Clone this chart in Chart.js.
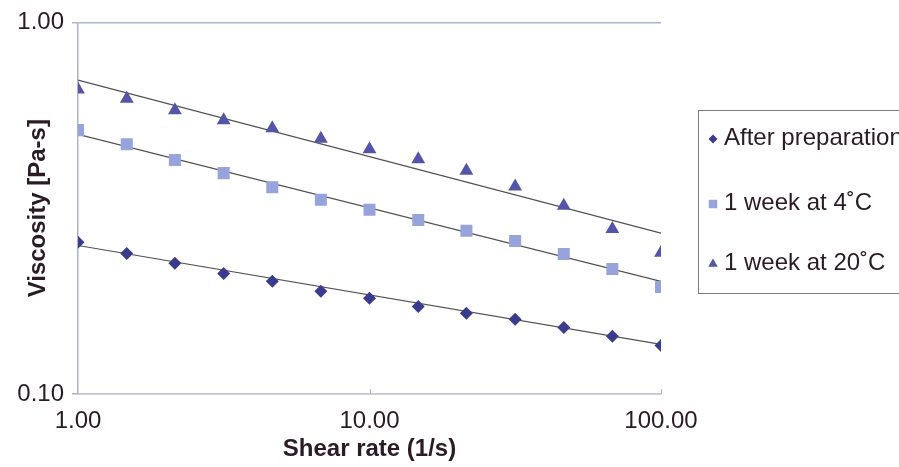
<!DOCTYPE html>
<html>
<head>
<meta charset="utf-8">
<script src="https://cdn.jsdelivr.net/npm/chart.js@4/dist/chart.umd.min.js"></script>
<style>
  html, body { margin: 0; padding: 0; background: #fff; }
  canvas { display: block; }
</style>
</head>
<body>
<canvas id="viscChart" width="899" height="467"></canvas>
<script>
// shear rates (1/s), six points per decade
const shearRates = [1.00, 1.47, 2.15, 3.16, 4.64, 6.81, 10.0, 14.7, 21.5, 31.6, 46.4, 68.1, 100.0];

// viscosity readings (Pa-s)
const afterPrep = [0.256, 0.239, 0.225, 0.211, 0.201, 0.189, 0.181, 0.172, 0.165, 0.159, 0.151, 0.143, 0.135];
const week4C    = [0.513, 0.470, 0.426, 0.393, 0.360, 0.333, 0.313, 0.294, 0.275, 0.258, 0.238, 0.217, 0.194];
const week20C   = [0.660, 0.623, 0.580, 0.545, 0.519, 0.486, 0.456, 0.428, 0.399, 0.362, 0.321, 0.278, 0.240];

// power-law trendlines, read at x = 1 and x = 100
const trendX       = [1, 100];
const trendPrep    = [0.251, 0.136];
const trend4C      = [0.500, 0.201];
const trend20C     = [0.699, 0.271];

const seriesNames = ['After preparation', '1 week at 4\u02DAC', '1 week at 20\u02DAC'];
const xTicks = [1, 10, 100];
const yTicks = [0.1, 1];

const textColor = '#2b1b24';
const axisBlue = '#aab4d2';
const trendColor = '#505050';
const fontFamily = '"Liberation Sans", Arial, sans-serif';

function pts(xs, ys) {
  return xs.map((x, i) => ({ x: x, y: ys[i] }));
}

function trendSet(ys) {
  return {
    label: '_trend',
    data: pts(trendX, ys),
    showLine: true,
    borderColor: trendColor,
    borderWidth: 1.2,
    pointRadius: 0,
    order: 1
  };
}

const data = {
  datasets: [
    {
      label: seriesNames[0],
      data: pts(shearRates, afterPrep),
      pointStyle: 'rectRot',
      pointRadius: 6.5,
      backgroundColor: '#3b3b8e',
      borderColor: '#3b3b8e',
      borderWidth: 0,
      order: 0
    },
    {
      label: seriesNames[1],
      data: pts(shearRates, week4C),
      pointStyle: 'rect',
      pointRadius: 8.5,
      backgroundColor: '#97a3db',
      borderColor: '#97a3db',
      borderWidth: 0,
      order: 0
    },
    {
      label: seriesNames[2],
      data: pts(shearRates, week20C),
      pointStyle: 'triangle',
      pointRadius: 8,
      backgroundColor: '#5455a9',
      borderColor: '#5455a9',
      borderWidth: 0,
      order: 0
    },
    trendSet(trendPrep),
    trendSet(trend4C),
    trendSet(trend20C)
  ]
};

// small inward tick marks on the x axis and the boxed legend on the right
const extras = {
  id: 'extras',
  afterDraw(chart) {
    const { ctx, scales } = chart;
    const xs = scales.x;
    const bottom = chart.chartArea.bottom;
    ctx.save();
    ctx.strokeStyle = '#b9bdc9';
    ctx.lineWidth = 1;
    xTicks.slice(1).forEach(v => {
      const px = Math.round(xs.getPixelForValue(v)) + 0.5;
      ctx.beginPath();
      ctx.moveTo(px, bottom);
      ctx.lineTo(px, bottom - 5);
      ctx.stroke();
    });

    // legend box
    ctx.strokeStyle = '#7c7c7c';
    ctx.lineWidth = 1;
    ctx.strokeRect(698.5, 110.5, 220, 183);
    const rowsY = [138, 203, 263];
    ctx.font = '24px ' + fontFamily;
    ctx.textBaseline = 'middle';
    ctx.textAlign = 'left';
    for (let i = 0; i < 3; i++) {
      const ds = chart.data.datasets[i];
      ctx.fillStyle = ds.backgroundColor;
      const r = ds.pointStyle === 'rect' ? 6 : (ds.pointStyle === 'triangle' ? 5.5 : 4.5);
      Chart.helpers.drawPoint(ctx, { pointStyle: ds.pointStyle, radius: r, rotation: 0, borderWidth: 0 }, 713, rowsY[i] + 1);
      ctx.fillStyle = textColor;
      ctx.fillText(ds.label, 724, rowsY[i]);
    }
    ctx.restore();
  }
};

const ctx = document.getElementById('viscChart').getContext('2d');

const viscChart = new Chart(ctx, {
  type: 'scatter',
  data: data,
  options: {
    responsive: false,
    devicePixelRatio: 1,
    animation: false,
    layout: { padding: { left: 0, top: 21, right: 238, bottom: 0 } },
    plugins: {
      legend: { display: false },
      tooltip: { enabled: false }
    },
    scales: {
      x: {
        type: 'logarithmic',
        min: 1,
        max: 100,
        afterBuildTicks: s => { s.ticks = xTicks.map(v => ({ value: v })); },
        afterFit: s => { s.height = 73; },
        ticks: {
          callback: v => Number(v).toFixed(2),
          color: textColor,
          font: { family: fontFamily, size: 24 },
          padding: 13,
          maxRotation: 0,
          autoSkip: false
        },
        grid: { drawOnChartArea: false, drawTicks: false },
        border: { color: '#c4c7d0', width: 1.5 },
        title: {
          display: true,
          text: 'Shear rate (1/s)',
          color: textColor,
          font: { family: fontFamily, size: 24, weight: 'bold' },
          padding: { top: 0, bottom: 3 }
        }
      },
      y: {
        type: 'logarithmic',
        min: 0.1,
        max: 1,
        afterBuildTicks: s => { s.ticks = yTicks.map(v => ({ value: v })); },
        afterFit: s => { s.width = 78; },
        ticks: {
          callback: v => Number(v).toFixed(2),
          color: textColor,
          font: { family: fontFamily, size: 24 },
          padding: 8
        },
        grid: {
          color: axisBlue,
          lineWidth: 1.5,
          drawTicks: true,
          tickLength: 6,
          tickColor: axisBlue
        },
        border: { color: axisBlue, width: 1.5 },
        title: {
          display: true,
          text: 'Viscosity [Pa-s]',
          color: textColor,
          font: { family: fontFamily, size: 24, weight: 'bold' },
          padding: { top: 24, bottom: 0 }
        }
      }
    }
  },
  plugins: [extras]
});
</script>
</body>
</html>
